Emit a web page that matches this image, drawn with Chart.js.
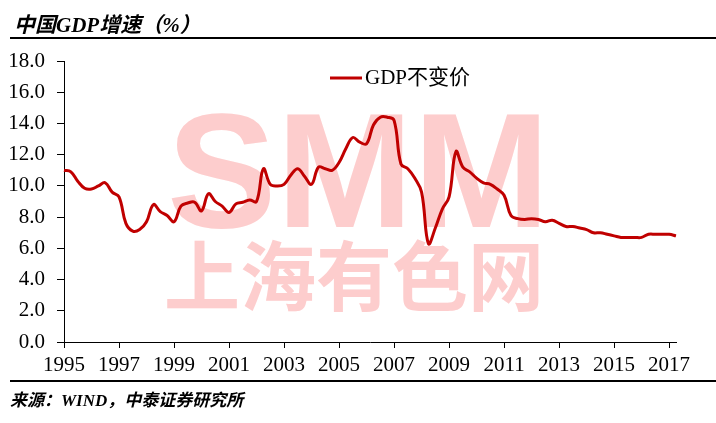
<!DOCTYPE html>
<html>
<head>
<meta charset="utf-8">
<script src="https://cdn.jsdelivr.net/npm/chart.js@4.4.0/dist/chart.umd.min.js"></script>
<style>
  body { margin: 0; background: #fff; }
  #wrap { position: relative; width: 716px; height: 423px; overflow: hidden; }
  #gdpChart { position: absolute; left: 0; top: 0; }
  .title { position: absolute; left: 14px; top: 8px; line-height: 21px;
           font: italic bold 21px "Liberation Serif", "Noto Sans CJK SC"; color: #000; white-space: nowrap; }
  .source { position: absolute; left: 10px; top: 386px; line-height: 18px;
            font: italic bold 17px "Liberation Serif", "Noto Sans CJK SC"; color: #000; white-space: nowrap; }
  .rule { position: absolute; left: 10px; right: 0; height: 2px; background: #000; }
</style>
</head>
<body>
<div id="wrap">
  <canvas id="gdpChart" width="716" height="423"></canvas>
  <div class="title">中国GDP增速（%）</div>
  <div class="rule" style="top:37px"></div>
  <div class="rule" style="top:380px"></div>
  <div class="source">来源：WIND，中泰证券研究所</div>
</div>
<script>
// Quarterly GDP growth (constant price, YoY %), 1995Q1 - 2017Q2
const startYear = 1995;
const gdpGrowth = [
  11.0, 10.9, 10.3, 9.85, 9.8, 10.0, 10.2, 9.6,
  9.3, 7.6, 7.1, 7.2, 7.7, 8.8, 8.35, 8.1,
  7.7, 8.7, 8.9, 8.95, 8.4, 9.5, 9.0, 8.7,
  8.3, 8.85, 8.95, 9.1, 9.0, 11.1, 10.1, 10.0,
  10.1, 10.7, 11.1, 10.6, 10.1, 11.2, 11.1, 11.0,
  11.5, 12.4, 13.1, 12.8, 12.7, 13.9, 14.4, 14.4,
  14.2, 11.4, 11.1, 10.5, 9.6, 6.3, 7.3, 8.5,
  9.3, 12.2, 11.2, 10.9, 10.5, 10.2, 10.1, 9.8,
  9.4, 8.1, 7.9, 7.85, 7.9, 7.85, 7.7, 7.8,
  7.6, 7.4, 7.4, 7.3, 7.2, 7.0, 7.0, 6.9,
  6.8, 6.7, 6.7, 6.7, 6.7, 6.9, 6.9, 6.9,
  6.9, 6.8
];
const tickYears = ['1995', '1997', '1999', '2001', '2003', '2005', '2007', '2009', '2011', '2013', '2015', '2017'];
const seriesName = 'GDP不变价';
const lineColor = '#C00000';

// quarter labels for the category axis
const quarterLabels = gdpGrowth.map((v, i) => (startYear + Math.floor(i / 4)) + 'Q' + (i % 4 + 1));

// faint SMM watermark behind the line
const watermark = {
  id: 'watermark',
  beforeDatasetsDraw(chart) {
    const ctx = chart.ctx;
    ctx.save();
    ctx.fillStyle = '#fdcdcd';
    ctx.textAlign = 'left';
    ctx.textBaseline = 'alphabetic';
    ctx.font = 'bold 164px "Liberation Sans"';
    ctx.fillText('SMM', 167, 227);
    ctx.font = 'bold 76px "Noto Sans CJK SC"';
    ctx.textAlign = 'center';
    ctx.textBaseline = 'middle';
    ctx.fillText('上海有色网', 354, 276);
    ctx.restore();
  }
};

// legend drawn inside the plot, like the original
const innerLegend = {
  id: 'innerLegend',
  afterDraw(chart) {
    const ctx = chart.ctx;
    const ds = chart.data.datasets[0];
    ctx.save();
    ctx.strokeStyle = ds.borderColor;
    ctx.lineWidth = 3;
    ctx.beginPath();
    ctx.moveTo(330, 78);
    ctx.lineTo(362, 78);
    ctx.stroke();
    ctx.fillStyle = '#000';
    ctx.font = '21px "Liberation Serif", "Noto Sans CJK SC"';
    ctx.textBaseline = 'middle';
    ctx.fillText(ds.label, 365, 78);
    ctx.restore();
  }
};

new Chart(document.getElementById('gdpChart').getContext('2d'), {
  type: 'line',
  data: {
    labels: quarterLabels,
    datasets: [{
      label: seriesName,
      data: gdpGrowth,
      borderColor: lineColor,
      borderWidth: 3,
      pointRadius: 0,
      tension: 0.4,
      fill: false
    }]
  },
  options: {
    responsive: false,
    animation: false,
    layout: { padding: { left: 0, right: 40, top: 61, bottom: 0 } },
    plugins: {
      legend: { display: false },
      tooltip: { enabled: false }
    },
    scales: {
      x: {
        offset: false,
        ticks: {
          autoSkip: false,
          maxRotation: 0,
          color: '#000',
          padding: 5,
          font: { family: 'Liberation Serif', size: 21 },
          callback: (v, i) => i % 8 === 0 ? tickYears[i / 8] : ''
        },
        grid: {
          drawOnChartArea: false,
          tickLength: 6,
          color: c => c.index % 8 === 0 ? '#000' : 'rgba(0,0,0,0)'
        },
        border: { color: '#000', width: 1 },
        afterFit: s => { s.height = 81; }
      },
      y: {
        min: 0,
        max: 18,
        ticks: {
          stepSize: 2,
          color: '#000',
          padding: 12,
          font: { family: 'Liberation Serif', size: 21 },
          callback: v => v.toFixed(1)
        },
        grid: { drawOnChartArea: false, tickLength: 7, color: '#000' },
        border: { color: '#000', width: 1 },
        afterFit: s => { s.width = 64; }
      }
    }
  },
  plugins: [watermark, innerLegend]
});
</script>
</body>
</html>
